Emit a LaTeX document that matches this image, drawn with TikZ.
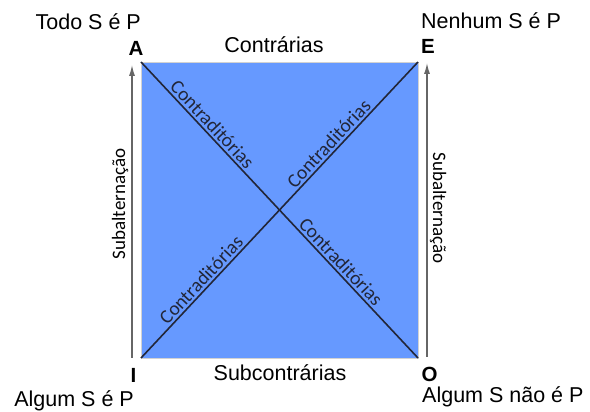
\documentclass[tikz,border=0pt]{standalone}
\usepackage{fontspec}
\setmainfont{Liberation Sans}
\newfontfamily\labelfont{Carlito}
\usetikzlibrary{arrows.meta}
\definecolor{quadblue}{RGB}{102,153,255}
\definecolor{diagline}{RGB}{34,38,56}
\begin{document}
\begin{tikzpicture}[x=1pt, y=1pt,
        corner/.style={font=\fontsize{20.5}{20.5}\selectfont\bfseries, inner sep=0pt},
        sentence/.style={font=\fontsize{21.5}{21.5}\selectfont, inner sep=0pt},
        relation/.style={font=\fontsize{21.5}{21.5}\selectfont, inner sep=0pt},
        slopetext/.style={font=\labelfont\fontsize{19.5}{19.5}\selectfont, sloped, above, inner sep=2pt},
        subaltarrow/.style={draw=gray!80!black, line width=1.3pt, -{Latex[length=11pt,width=6pt]}}]
        \useasboundingbox (0,0) rectangle (590,412);
        \coordinate (A) at (141,350);
        \coordinate (E) at (418,350);
        \coordinate (I) at (141,54);
        \coordinate (O) at (418,54);
        \fill[quadblue, draw=gray!35, thin] (I) rectangle (E);
        \draw[diagline, line width=1.6pt] (A) -- (O)
            node[slopetext, pos=0.233] {Contraditórias}
            node[slopetext, pos=0.697] {Contraditórias};
        \draw[diagline, line width=1.6pt] (I) -- (E)
            node[slopetext, pos=0.242] {Contraditórias}
            node[slopetext, pos=0.703] {Contraditórias};
        \node[corner, anchor=base] (labelA) at (136,356) {A};
        \node[corner, anchor=base] (labelE) at (428,358) {E};
        \node[corner, anchor=base] (labelI) at (133.5,29) {I};
        \node[corner, anchor=base] (labelO) at (429.5,30) {O};
        \node[sentence, anchor=base east] (todo) at (141,382) {Todo S é P};
        \node[sentence, anchor=base west] (nenhum) at (421,383) {Nenhum S é P};
        \node[sentence, anchor=base east] (algum) at (134,5) {Algum S é P};
        \node[sentence, anchor=base west] (algumnao) at (422,9) {Algum S não é P};
        \node[relation, anchor=base] (contr) at (274,359) {Contrárias};
        \node[relation, anchor=base] (subcontr) at (280,31) {Subcontrárias};
        \node[font=\labelfont\fontsize{19}{19}\selectfont, rotate=90] (subaltL) at (120,208) {Subalternação};
        \node[font=\labelfont\fontsize{19}{19}\selectfont, rotate=-90] (subaltR) at (438,204) {Subalternação};
        \coordinate (leftfoot) at (132,54);
        \coordinate (lefttip) at (132,347);
        \coordinate (rightfoot) at (427,55);
        \coordinate (righttip) at (427,349);
        \draw[subaltarrow] (leftfoot) -- (lefttip);
        \draw[subaltarrow] (rightfoot) -- (righttip);
    \end{tikzpicture}
\end{document}
